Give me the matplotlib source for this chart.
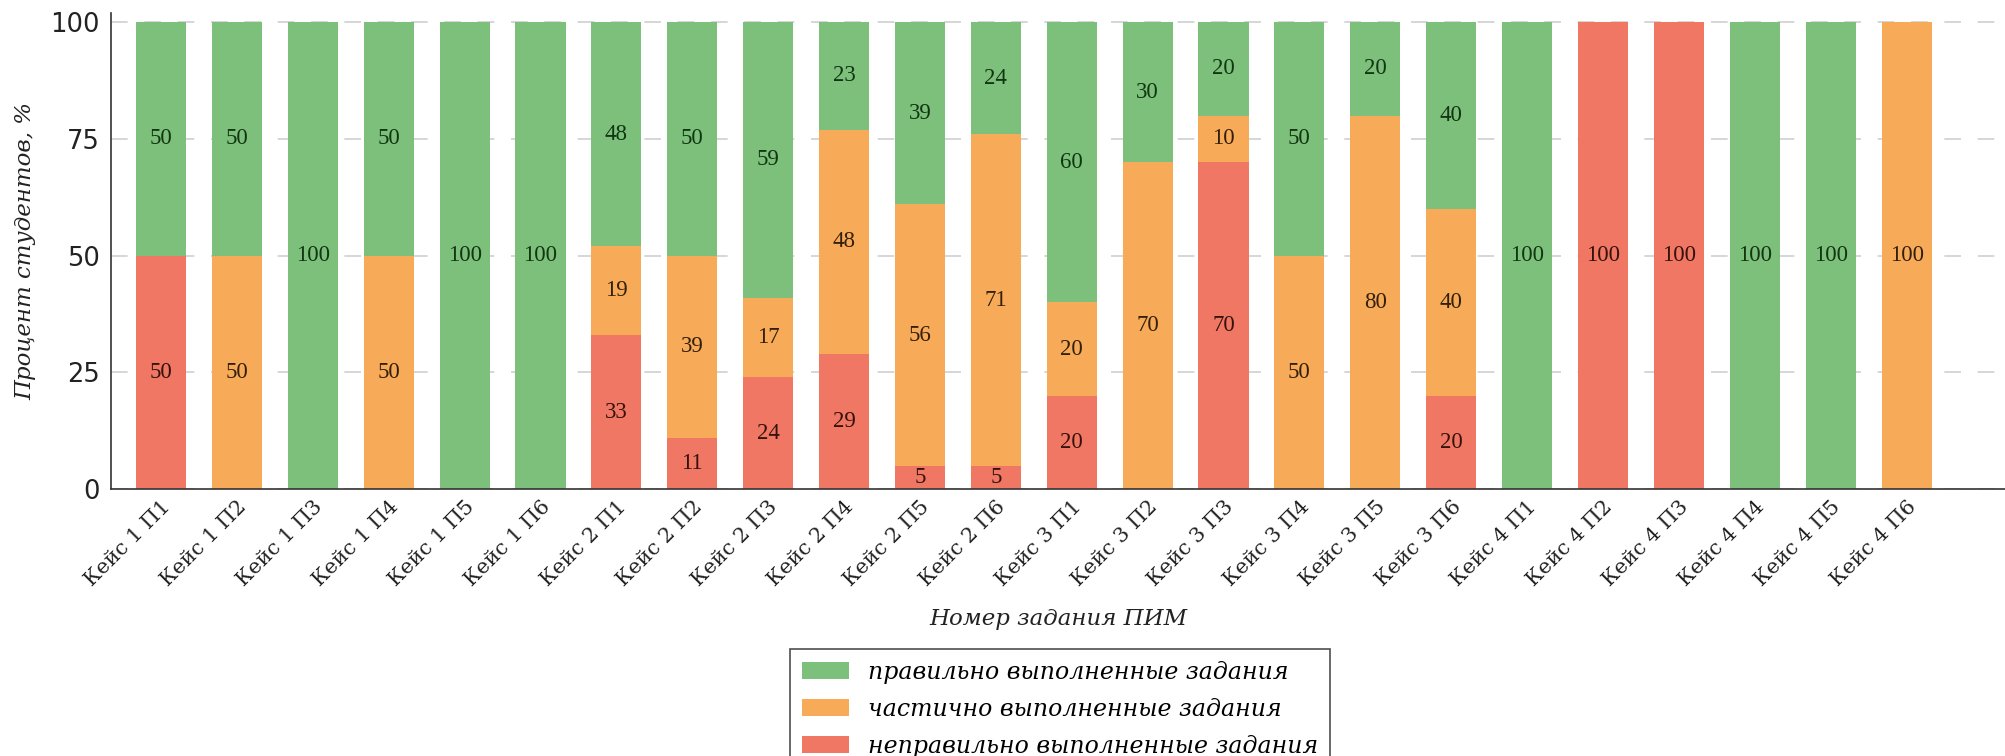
import numpy as np
import matplotlib
matplotlib.use('Agg')
import matplotlib.pyplot as plt

# === Data ===
tasks = [f'Кейс {c} П{p}' for c in range(1, 5) for p in range(1, 7)]
correct = [50, 50, 100, 50, 100, 100,
           48, 50, 59, 23, 39, 24,
           60, 30, 20, 50, 20, 40,
           100, 0, 0, 100, 100, 0]
partial = [0, 50, 0, 50, 0, 0,
           19, 39, 17, 48, 56, 71,
           20, 70, 10, 50, 80, 40,
           0, 0, 0, 0, 0, 100]
wrong = [50, 0, 0, 0, 0, 0,
         33, 11, 24, 29, 5, 5,
         20, 0, 70, 0, 0, 20,
         0, 100, 100, 0, 0, 0]
series_names = ['правильно выполненные задания',
                'частично выполненные задания',
                'неправильно выполненные задания']

COLORS = {'green': '#7cc07c', 'orange': '#f7aa58', 'red': '#ef7763'}
TEXT_COLORS = {'green': '#123512', 'orange': '#33200a', 'red': '#35120b'}


def main():
    fig = plt.figure(figsize=(20.06, 7.56), dpi=100)
    ax = fig.add_axes([0.0553, 0.353, 0.9447, 0.630])

    x = np.arange(len(tasks))
    w = 0.66
    wrong_a = np.array(wrong)
    partial_a = np.array(partial)
    correct_a = np.array(correct)

    b_red = ax.bar(x, wrong_a, w, color=COLORS['red'], zorder=2)
    b_orange = ax.bar(x, partial_a, w, bottom=wrong_a, color=COLORS['orange'], zorder=2)
    b_green = ax.bar(x, correct_a, w, bottom=wrong_a + partial_a, color=COLORS['green'], zorder=2)

    for bars, vals, key in [(b_red, wrong_a, 'red'), (b_orange, partial_a, 'orange'),
                            (b_green, correct_a, 'green')]:
        labels = [str(v) if v > 0 else '' for v in vals]
        ax.bar_label(bars, labels=labels, label_type='center', fontsize=16.5,
                     family='Liberation Serif', color=TEXT_COLORS[key], zorder=3)

    ax.set_xlim(-0.66, 24.31)
    ax.set_ylim(0, 102)
    ax.set_yticks([0, 25, 50, 75, 100])
    ax.tick_params(axis='y', length=0, labelsize=18.5, pad=8, labelcolor='#222222')
    ax.tick_params(axis='x', length=0, pad=6)
    ax.set_xticks(x)
    ax.set_xticklabels(tasks, rotation=45, ha='right', rotation_mode='anchor',
                       family='DejaVu Serif', fontsize=15, color='#222222')

    ax.yaxis.grid(True, color='#d0d0d0', linewidth=1.2, dashes=(10, 10), zorder=0)
    ax.set_axisbelow(True)
    for s in ['top', 'right']:
        ax.spines[s].set_visible(False)
    for s in ['left', 'bottom']:
        ax.spines[s].set_color('#333333')
        ax.spines[s].set_linewidth(1.2)

    ax.set_ylabel('Процент студентов, %', family='DejaVu Serif', style='italic',
                  fontsize=16.5, labelpad=10, color='#222222')
    ax.set_xlabel('Номер задания ПИМ', family='DejaVu Serif', style='italic',
                  fontsize=16.5, labelpad=13, color='#222222')

    leg = fig.legend([b_green, b_orange, b_red], series_names,
                     loc='upper center', bbox_to_anchor=(1060 / 2006, 1 - 637 / 756),
                     prop={'family': 'DejaVu Serif', 'style': 'italic', 'size': 17},
                     frameon=True, fancybox=False, edgecolor='#222222',
                     handlelength=2.0, handleheight=0.7, labelspacing=0.6,
                     borderpad=0.5)
    leg.get_frame().set_linewidth(1.2)

    fig.savefig('out.png', dpi=100)
    plt.close(fig)


if __name__ == '__main__':
    main()
